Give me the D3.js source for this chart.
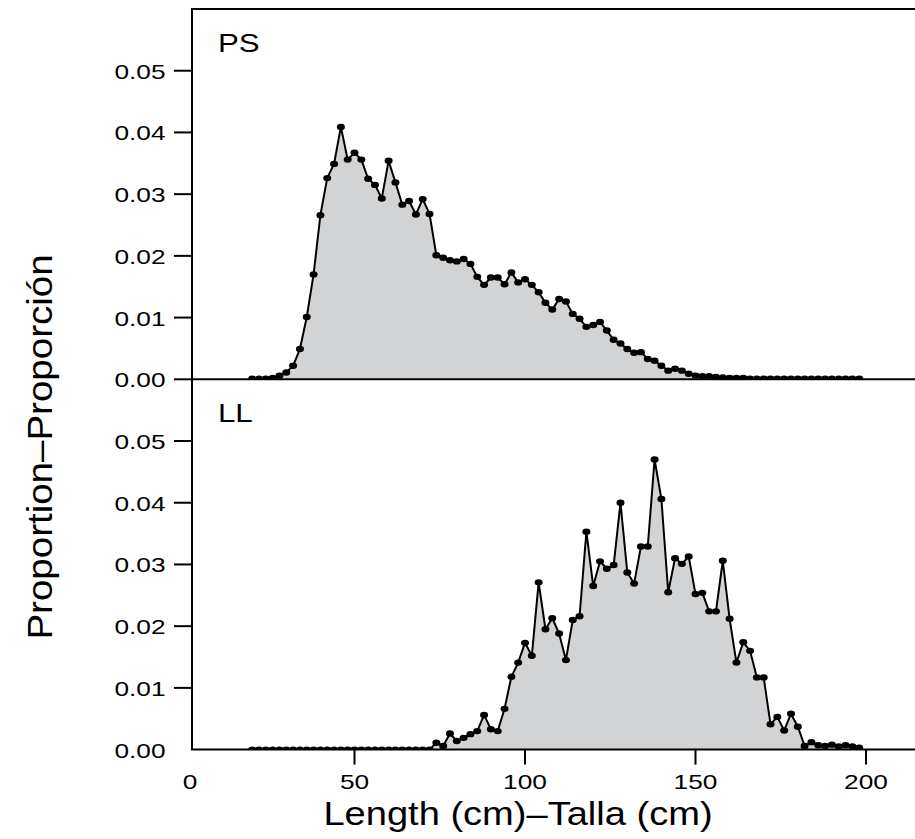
<!DOCTYPE html>
<html>
<head>
<meta charset="utf-8">
<script src="https://cdn.jsdelivr.net/npm/d3@7"></script>
<style>
  body { margin: 0; background: #fff; }
  text { font-family: "Liberation Sans", Arial, sans-serif; fill: #000; }
</style>
</head>
<body>
<div id="chart"></div>
<script>
// length classes (cm)
const lengths = [20, 22, 24, 26, 28, 30, 32, 34, 36, 38, 40, 42, 44, 46, 48, 50, 52, 54, 56, 58,
    60, 62, 64, 66, 68, 70, 72, 74, 76, 78, 80, 82, 84, 86, 88, 90, 92, 94, 96, 98,
    100, 102, 104, 106, 108, 110, 112, 114, 116, 118, 120, 122, 124, 126, 128, 130, 132, 134, 136, 138,
    140, 142, 144, 146, 148, 150, 152, 154, 156, 158, 160, 162, 164, 166, 168, 170, 172, 174, 176, 178,
    180, 182, 184, 186, 188, 190, 192, 194, 196, 198];

// purse seine
const psValues = [0.0001, 0.0001, 0.0001, 0.0002, 0.0006, 0.0011, 0.0022, 0.0049, 0.0101, 0.0170,
    0.0266, 0.0326, 0.0349, 0.0409, 0.0356, 0.0367, 0.0356, 0.0325, 0.0315, 0.0293,
    0.0354, 0.0319, 0.0283, 0.0289, 0.0267, 0.0292, 0.0268, 0.0201, 0.0197, 0.0193,
    0.0191, 0.0195, 0.0187, 0.0166, 0.0153, 0.0165, 0.0165, 0.0154, 0.0173, 0.0157,
    0.0162, 0.0153, 0.0141, 0.0124, 0.0113, 0.0130, 0.0126, 0.0106, 0.0098, 0.0085,
    0.0088, 0.0093, 0.0079, 0.0064, 0.0058, 0.0049, 0.0043, 0.0044, 0.0033, 0.0030,
    0.0022, 0.0014, 0.0017, 0.0014, 0.0009, 0.0006, 0.0005, 0.0005, 0.0004, 0.0003,
    0.0002, 0.0002, 0.0002, 0.0001, 0.0001, 0.0001, 0.0001, 0.0001, 0.0001, 0.0001,
    0.0001, 0.0001, 0.0001, 0.0001, 0.0001, 0.0001, 0.0001, 0.0001, 0.0001, 0.0001];

// longline
const llValues = [0, 0, 0, 0, 0, 0, 0, 0, 0, 0,
    0, 0, 0, 0, 0, 0, 0, 0, 0, 0,
    0, 0, 0, 0, 0, 0, 0, 0.0011, 0.0006, 0.0026,
    0.0014, 0.0019, 0.0025, 0.0030, 0.0056, 0.0033, 0.0030, 0.0066, 0.0118, 0.0141,
    0.0173, 0.0152, 0.0271, 0.0195, 0.0213, 0.0188, 0.0145, 0.0210, 0.0216, 0.0353,
    0.0265, 0.0305, 0.0293, 0.0299, 0.0400, 0.0287, 0.0269, 0.0329, 0.0329, 0.0470,
    0.0406, 0.0255, 0.0310, 0.0301, 0.0313, 0.0252, 0.0254, 0.0224, 0.0224, 0.0306,
    0.0212, 0.0141, 0.0174, 0.0160, 0.0117, 0.0117, 0.0041, 0.0053, 0.0031, 0.0058,
    0.0037, 0.0006, 0.0012, 0.0007, 0.0006, 0.0008, 0.0005, 0.0007, 0.0005, 0.0003];

const panelNames = ['PS', 'LL'];
const panelValues = [psValues, llValues];
const yTicks = [0, 0.01, 0.02, 0.03, 0.04, 0.05];
const xTicks = [0, 50, 100, 150, 200];

const width = 915, height = 839;
const plotLeft = 192, plotTop = 9, panelH = 370.3;
const plotBottom = plotTop + panelH * 2;

const svg = d3.select('#chart')
    .append('svg')
    .attr('width', width)
    .attr('height', height);

const x = d3.scaleLinear()
    .domain([0, 200])
    .range([184, 866]);

// frame and tick marks share one group
const frame = svg.append('g')
    .attr('stroke', '#000')
    .attr('stroke-width', 2)
    .attr('fill', 'none');

panelNames.forEach((name, i) => {
    const y0 = plotTop + panelH * i;
    const y1 = plotTop + panelH * (i + 1);
    const y = d3.scaleLinear().domain([0, 0.06]).range([y1, y0]);
    const data = lengths.map((len, j) => ({len: len, v: panelValues[i][j]}));

    svg.append('clipPath')
        .attr('id', 'clip' + i)
        .append('rect')
        .attr('x', plotLeft).attr('y', y0)
        .attr('width', width - plotLeft).attr('height', y1 - y0);

    const g = svg.append('g').attr('clip-path', `url(#clip${i})`);

    const area = d3.area()
        .x(d => x(d.len))
        .y0(y(0))
        .y1(d => y(d.v));
    const line = d3.line()
        .x(d => x(d.len))
        .y(d => y(d.v));

    g.append('path')
        .datum(data)
        .attr('d', area)
        .attr('fill', '#d2d3d5');
    g.append('path')
        .datum(data)
        .attr('d', line)
        .attr('fill', 'none')
        .attr('stroke', '#000')
        .attr('stroke-width', 2);
    g.selectAll('ellipse')
        .data(data)
        .enter()
        .append('ellipse')
        .attr('cx', d => x(d.len))
        .attr('cy', d => y(d.v))
        .attr('rx', 4)
        .attr('ry', 3.2)
        .attr('fill', '#000');

    // y ticks (no tick mark at 0 on the lower panel)
    const tickVals = i === 1 ? yTicks.slice(1) : yTicks;
    tickVals.forEach(t => {
        frame.append('line')
            .attr('x1', plotLeft - 18).attr('x2', plotLeft)
            .attr('y1', y(t)).attr('y2', y(t));
    });

    svg.append('g')
        .selectAll('text')
        .data(yTicks)
        .enter()
        .append('text')
        .attr('transform', d => `translate(${plotLeft - 26.5},${y(d) + 8}) scale(1.25,1)`)
        .attr('text-anchor', 'end')
        .style('font-size', '21px')
        .text(d3.format('.2f'));

    svg.append('text')
        .attr('transform', `translate(218,${y0 + 43}) scale(1.25,1)`)
        .style('font-size', '25px')
        .text(name);
});

// x ticks
xTicks.filter(d => x(d) > plotLeft).forEach(t => {
    frame.append('line')
        .attr('x1', x(t)).attr('x2', x(t))
        .attr('y1', plotBottom).attr('y2', plotBottom + 15);
});

svg.append('g')
    .selectAll('text')
    .data(xTicks)
    .enter()
    .append('text')
    .attr('transform', d => `translate(${Math.max(x(d), plotLeft - 2)},${plotBottom + 39}) scale(1.25,1)`)
    .attr('text-anchor', 'middle')
    .style('font-size', '21px')
    .text(d3.format('d'));

// frame lines
frame.raise();
frame.append('line').attr('x1', plotLeft).attr('x2', plotLeft).attr('y1', plotTop).attr('y2', plotBottom);
[plotTop, plotTop + panelH, plotBottom].forEach(yy => {
    frame.append('line').attr('x1', plotLeft - 1).attr('x2', width).attr('y1', yy).attr('y2', yy);
});

// axis titles
svg.append('text')
    .attr('transform', `translate(518,${plotBottom + 75}) scale(1.12,1)`)
    .attr('text-anchor', 'middle')
    .style('font-size', '34px')
    .text('Length (cm)\u2013Talla (cm)');

svg.append('text')
    .attr('transform', `translate(52,447) rotate(-90) scale(1.1,1)`)
    .attr('text-anchor', 'middle')
    .style('font-size', '35px')
    .text('Proportion\u2013Proporción');
</script>
</body>
</html>
